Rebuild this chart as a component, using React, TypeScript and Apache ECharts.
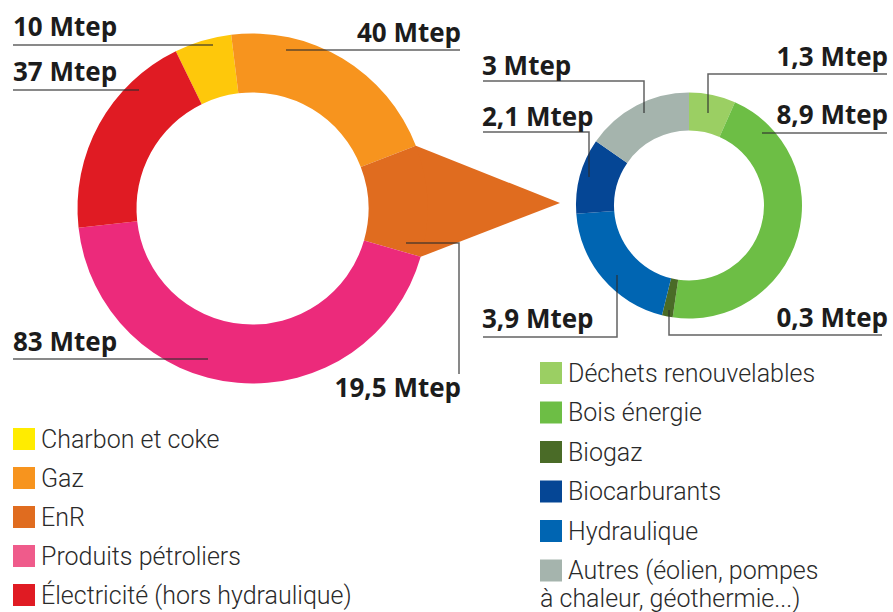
import React, { useEffect, useRef } from "react";
import * as echarts from "echarts";

// ---- Data ----
const bigNames = [
  "Charbon et coke",
  "Gaz",
  "EnR",
  "Produits pétroliers",
  "Électricité (hors hydraulique)",
];
const bigValues = [10, 40, 19.5, 83, 37];
const bigColors = ["#FEC80B", "#F7941E", "#E06C1F", "#EC2A7B", "#E01B23"];
const bigLegendColors = ["#FFEC00", "#F7941E", "#E06C1F", "#EF5B8B", "#E01B23"];

const renewNames = [
  "Déchets renouvelables",
  "Bois énergie",
  "Biogaz",
  "Biocarburants",
  "Hydraulique",
  "Autres (éolien, pompes\nà chaleur, géothermie...)",
];
const renewValues = [1.3, 8.9, 0.3, 2.1, 3.9, 3];
const renewColors = ["#9BCF63", "#6DBE45", "#4A6B27", "#054695", "#0065B2", "#A5B4AD"];
const renewPieOrder = [0, 1, 2, 4, 3, 5];
const unit = "Mtep";

// ---- Layout ----
const BIG_C = [252.5, 208.5];
const BIG_R = [116, 175];
const BIG_START = 116;
const SMALL_C = [689, 205.5];
const SMALL_R = [75, 113];
const SMALL_START = 90;
const TIP = [560, 203];
const EXPLODED = 2; // EnR index

const LINE = "rgba(45,45,45,0.75)";
const LABEL_FONT = "bold 26px 'Open Sans', 'DejaVu Sans', sans-serif";
const LEGEND_FONT = "300 25px Roboto, 'Noto Sans', sans-serif";

const fmt = (v: number) => String(v).replace(".", ",") + " " + unit;

// label placements: [x, y, align, leader polyline points]
const bigLabelLayout: [number, number, string, number[][]][] = [
  [13, 26, "left", [[13, 45], [213, 45]]],
  [461, 32, "right", [[286, 50], [460, 50]]],
  [461, 387, "right", [[406, 243], [459, 243], [459, 374]]],
  [13, 341, "left", [[13, 359], [208, 359]]],
  [13, 71, "left", [[13, 90], [139, 90]]],
];
const renewLabelLayout: [number, number, string, number[][]][] = [
  [888, 56, "right", [[887, 74], [708, 74], [708, 113]]],
  [888, 114, "right", [[762, 133], [887, 133]]],
  [888, 317, "right", [[882, 335], [669, 335], [669, 310]]],
  [482, 116, "left", [[483, 132], [589, 132], [589, 177]]],
  [482, 318, "left", [[483, 337], [617, 337], [617, 275]]],
  [482, 65, "left", [[483, 81], [644, 81], [644, 113]]],
];

function pt(c: number[], r: number, deg: number) {
  const a = (deg * Math.PI) / 180;
  return [c[0] + r * Math.cos(a), c[1] - r * Math.sin(a)];
}

function text(x: number, y: number, s: string, font: string, align: string, fill = "#1c1c1c") {
  return {
    type: "text",
    x,
    y,
    silent: true,
    z: 10,
    style: {
      text: s,
      font,
      fill,
      align,
      verticalAlign: "middle",
      textAlign: align,
      textVerticalAlign: "middle",
    },
  };
}

function line(points: number[][]) {
  return {
    type: "polyline",
    silent: true,
    z: 11,
    shape: { points },
    style: { stroke: LINE, lineWidth: 1.5, fill: null },
  };
}

export default function App() {
  const ref = useRef<HTMLDivElement>(null);

  useEffect(() => {
    if (!ref.current) return;
    const chart = echarts.init(ref.current, null, { renderer: "svg" });

    const total = bigValues.reduce((a, b) => a + b, 0);
    let before = 0;
    for (let i = 0; i < EXPLODED; i++) before += bigValues[i];
    const a1 = BIG_START - (before / total) * 360;
    const a2 = a1 - (bigValues[EXPLODED] / total) * 360;
    const poly = [
      pt(BIG_C, BIG_R[1], a1),
      TIP,
      pt(BIG_C, BIG_R[1], a2),
      pt(BIG_C, BIG_R[1] - 25, a2 + 2),
      pt(BIG_C, BIG_R[1] - 25, a1 - 2),
    ];

    const graphics: any[] = [
      {
        type: "polygon",
        silent: true,
        z: 1,
        shape: { points: poly },
        style: { fill: bigColors[EXPLODED] },
      },
    ];

    bigLabelLayout.forEach(([x, y, align, pts], i) => {
      graphics.push(text(x, y, fmt(bigValues[i]), LABEL_FONT, align));
      graphics.push(line(pts));
    });
    renewLabelLayout.forEach(([x, y, align, pts], i) => {
      graphics.push(text(x, y, fmt(renewValues[i]), LABEL_FONT, align));
      graphics.push(line(pts));
    });

    // legends
    bigNames.forEach((n, i) => {
      const top = 428 + i * 39;
      graphics.push({
        type: "rect",
        silent: true,
        shape: { x: 13, y: top, width: 22, height: 22 },
        style: { fill: bigLegendColors[i] },
      });
      graphics.push(text(41, top + 11, n, LEGEND_FONT, "left", "#2a2a2a"));
    });
    renewNames.forEach((n, i) => {
      const top = 362 + i * 39.5;
      graphics.push({
        type: "rect",
        silent: true,
        shape: { x: 540, y: top, width: 22, height: 22 },
        style: { fill: renewColors[i] },
      });
      const parts = n.split("\n");
      graphics.push(text(568, top + 11, parts[0], LEGEND_FONT, "left", "#2a2a2a"));
      if (parts[1]) graphics.push(text(540, top + 11 + 28, parts[1], LEGEND_FONT, "left", "#2a2a2a"));
    });

    chart.setOption({
      animation: false,
      backgroundColor: "#ffffff",
      series: [
        {
          type: "pie",
          silent: true,
          center: BIG_C,
          radius: BIG_R,
          startAngle: BIG_START,
          clockwise: true,
          label: { show: false },
          labelLine: { show: false },
          z: 2,
          data: bigNames.map((n, i) => ({
            name: n,
            value: bigValues[i],
            itemStyle: { color: bigColors[i] },
          })),
        },
        {
          type: "pie",
          silent: true,
          center: SMALL_C,
          radius: SMALL_R,
          startAngle: SMALL_START,
          clockwise: true,
          label: { show: false },
          labelLine: { show: false },
          z: 2,
          data: renewPieOrder.map((i) => ({
            name: renewNames[i],
            value: renewValues[i],
            itemStyle: { color: renewColors[i] },
          })),
        },
      ],
      graphic: { elements: graphics },
    });

    return () => chart.dispose();
  }, []);

  return (
    <div
      ref={ref}
      style={{ position: "fixed", left: 0, top: 0, width: 893, height: 612, background: "#fff" }}
    />
  );
}
